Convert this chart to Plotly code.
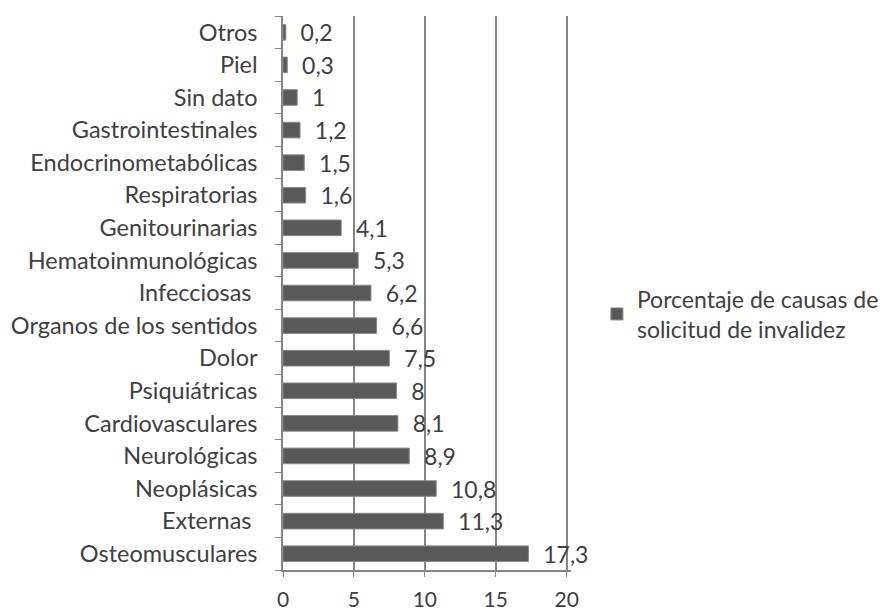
import plotly.graph_objects as go

categories = ["Osteomusculares", "Externas ", "Neoplásicas", "Neurológicas", "Cardiovasculares",
              "Psiquiátricas", "Dolor", "Organos de los sentidos", "Infecciosas ",
              "Hematoinmunológicas", "Genitourinarias", "Respiratorias", "Endocrinometabólicas",
              "Gastrointestinales", "Sin dato", "Piel", "Otros"]
values = [17.3, 11.3, 10.8, 8.9, 8.1, 8, 7.5, 6.6, 6.2, 5.3, 4.1, 1.6, 1.5, 1.2, 1, 0.3, 0.2]
labels = ["\u00a0\u00a0" + str(v).replace(".", ",") for v in values]
series_name = "Porcentaje de causas de<br>solicitud de invalidez"
x_ticks = [0, 5, 10, 15, 20]

FONT = "Lato, 'Open Sans', sans-serif"

fig = go.Figure(go.Bar(
    y=categories, x=values, orientation="h",
    marker=dict(color="#595959", line=dict(color="#8a8a8a", width=1)),
    text=labels, textposition="outside", cliponaxis=False, constraintext="none",
    textfont=dict(size=23, color="#404040", family=FONT),
    name=series_name, showlegend=True,
))

fig.update_layout(
    width=885, height=603,
    margin=dict(l=275, r=322, t=8, b=41, autoexpand=False),
    paper_bgcolor="white", plot_bgcolor="white",
    bargap=0.52,
    font=dict(family=FONT, size=22, color="#404040"),
    xaxis=dict(range=[0, 20.3], tickvals=x_ticks, showgrid=True, gridcolor="#858585", gridwidth=1.6,
               zeroline=False, showline=True, linecolor="#858585", linewidth=1.5, ticks="outside",
               ticklen=5, tickcolor="#858585", tickfont=dict(size=21), ticklabelstandoff=5,
               fixedrange=True),
    yaxis=dict(showline=True, linecolor="#858585", linewidth=1.5, ticks="outside", ticklen=6,
               tickcolor="#858585", tickson="boundaries", tickfont=dict(size=23.5),
               ticklabelstandoff=19, showgrid=False),
    legend=dict(x=1.09, y=0.462, xanchor="left", yanchor="middle", font=dict(size=23),
                bgcolor="rgba(0,0,0,0)"),
)

fig.write_html("out.html")
